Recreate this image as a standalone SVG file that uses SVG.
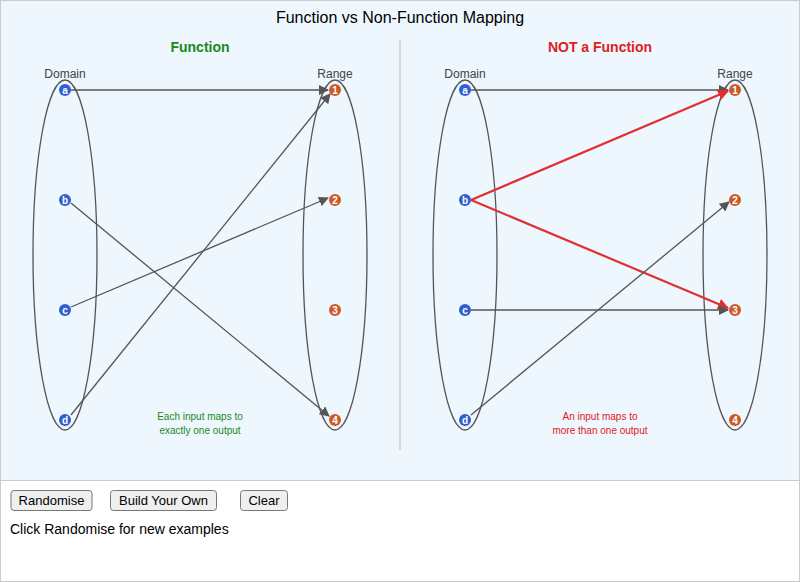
<svg xmlns="http://www.w3.org/2000/svg" width="800" height="582" viewBox="0 0 800 582">
<style>
text{font-family:"Liberation Sans",Arial,sans-serif}
.ell{fill:none;stroke:#555;stroke-width:1.3}
.lbl{font-size:12px;fill:#444;text-anchor:middle}
.dn{fill:#2f5fd0}.rn{fill:#cc5a28}
.nt{font-size:10px;fill:#fff;text-anchor:middle;font-weight:bold}
.ln{stroke:#555;stroke-width:1.3;fill:none;marker-end:url(#ag)}
.rd{stroke:#e03030;stroke-width:2.2;fill:none;marker-end:url(#ar)}
.btn rect{fill:#efefef;stroke:#777;rx:3}
.btn text{font-size:13px;fill:#000;text-anchor:middle}
</style>
<defs>
<marker id="ag" viewBox="0 0 10 10" refX="9" refY="5" markerWidth="10" markerHeight="10" markerUnits="userSpaceOnUse" orient="auto"><path d="M0,0L10,5L0,10z" fill="#555"/></marker>
<marker id="ar" viewBox="0 0 10 10" refX="9" refY="5" markerWidth="11" markerHeight="11" markerUnits="userSpaceOnUse" orient="auto"><path d="M0,0L10,5L0,10z" fill="#e03030"/></marker>
</defs>
<rect x="0" y="0" width="800" height="582" fill="#fff"/>
<rect x="0.5" y="0.5" width="799" height="480" fill="#eef6fe" stroke="#ccc"/>
<rect x="0.5" y="480.5" width="799" height="101" fill="#fff" stroke="#ccc"/>
<text x="400" y="23" font-size="16" text-anchor="middle" fill="#000">Function vs Non-Function Mapping</text>
<line x1="400" y1="40" x2="400" y2="450" stroke="#ccc" stroke-width="1.5"/>
<text x="200" y="52" font-size="14" font-weight="bold" fill="#1a8a1a" text-anchor="middle">Function</text>
<text x="600" y="52" font-size="14" font-weight="bold" fill="#e02020" text-anchor="middle">NOT a Function</text>
<g id="ellipses">
<ellipse class="ell" cx="65" cy="255" rx="32" ry="175"/>
<ellipse class="ell" cx="335" cy="255" rx="32" ry="175"/>
<ellipse class="ell" cx="465" cy="255" rx="32" ry="175"/>
<ellipse class="ell" cx="735" cy="255" rx="32" ry="175"/>
<text class="lbl" x="65" y="78">Domain</text><text class="lbl" x="335" y="78">Range</text>
<text class="lbl" x="465" y="78">Domain</text><text class="lbl" x="735" y="78">Range</text>
</g>
<g id="connectors">
<line class="ln" x1="71" y1="90" x2="328" y2="90"/>
<line class="ln" x1="71" y1="203" x2="329" y2="416"/>
<line class="ln" x1="71" y1="307" x2="328" y2="198"/>
<line class="ln" x1="71" y1="415" x2="330" y2="94"/>
<line class="ln" x1="471" y1="90" x2="728" y2="90"/>
<line class="rd" x1="471" y1="200" x2="728" y2="91"/>
<line class="rd" x1="471" y1="200" x2="728" y2="308"/>
<line class="ln" x1="471" y1="310" x2="728" y2="310"/>
<line class="ln" x1="471" y1="415" x2="729" y2="202"/>
</g>
<g id="left-domain">
<g id="la"><circle class="dn" cx="65" cy="90" r="6"/><text class="nt" x="65" y="93.5">a</text></g>
<g id="lb"><circle class="dn" cx="65" cy="200" r="6"/><text class="nt" x="65" y="203.5">b</text></g>
<g id="lc"><circle class="dn" cx="65" cy="310" r="6"/><text class="nt" x="65" y="313.5">c</text></g>
<g id="ld"><circle class="dn" cx="65" cy="420" r="6"/><text class="nt" x="65" y="423.5">d</text></g>
</g>
<g id="left-range">
<g id="l1"><circle class="rn" cx="335" cy="90" r="6"/><text class="nt" x="335" y="93.5">1</text></g>
<g id="l2"><circle class="rn" cx="335" cy="200" r="6"/><text class="nt" x="335" y="203.5">2</text></g>
<g id="l3"><circle class="rn" cx="335" cy="310" r="6"/><text class="nt" x="335" y="313.5">3</text></g>
<g id="l4"><circle class="rn" cx="335" cy="420" r="6"/><text class="nt" x="335" y="423.5">4</text></g>
</g>
<g id="right-domain">
<g id="ra"><circle class="dn" cx="465" cy="90" r="6"/><text class="nt" x="465" y="93.5">a</text></g>
<g id="rb"><circle class="dn" cx="465" cy="200" r="6"/><text class="nt" x="465" y="203.5">b</text></g>
<g id="rc"><circle class="dn" cx="465" cy="310" r="6"/><text class="nt" x="465" y="313.5">c</text></g>
<g id="rdn"><circle class="dn" cx="465" cy="420" r="6"/><text class="nt" x="465" y="423.5">d</text></g>
</g>
<g id="right-range">
<g id="r1"><circle class="rn" cx="735" cy="90" r="6"/><text class="nt" x="735" y="93.5">1</text></g>
<g id="r2"><circle class="rn" cx="735" cy="200" r="6"/><text class="nt" x="735" y="203.5">2</text></g>
<g id="r3"><circle class="rn" cx="735" cy="310" r="6"/><text class="nt" x="735" y="313.5">3</text></g>
<g id="r4"><circle class="rn" cx="735" cy="420" r="6"/><text class="nt" x="735" y="423.5">4</text></g>
</g>
<text x="200" y="420" font-size="10" fill="#1a8a1a" text-anchor="middle">Each input maps to</text>
<text x="200" y="434" font-size="10" fill="#1a8a1a" text-anchor="middle">exactly one output</text>
<text x="600" y="420" font-size="10" fill="#e02020" text-anchor="middle">An input maps to</text>
<text x="600" y="434" font-size="10" fill="#e02020" text-anchor="middle">more than one output</text>
<g id="btn-random" class="btn"><rect x="11" y="490.5" width="81" height="20"/><text x="51.5" y="505">Randomise</text></g>
<g id="btn-build" class="btn"><rect x="110.5" y="490.5" width="106" height="20"/><text x="163.5" y="505">Build Your Own</text></g>
<g id="btn-clear" class="btn"><rect x="240.5" y="490.5" width="47" height="20"/><text x="264" y="505">Clear</text></g>
<text x="10" y="534" font-size="14" fill="#000">Click Randomise for new examples</text>
</svg>
